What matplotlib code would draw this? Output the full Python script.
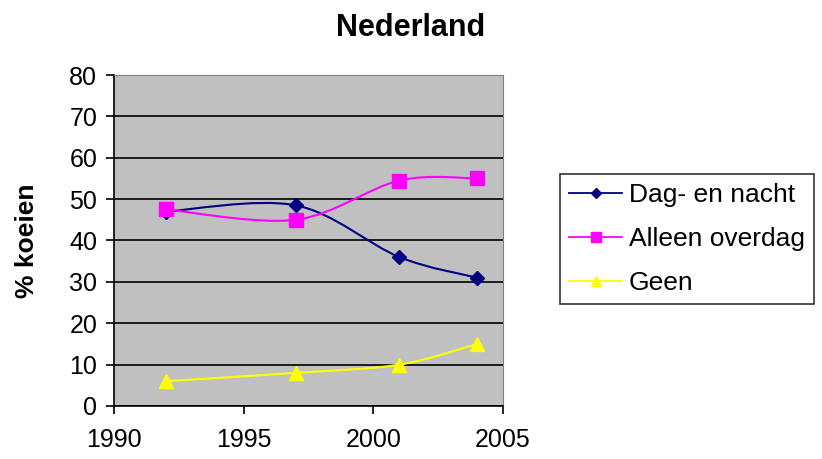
import matplotlib.pyplot as plt
from matplotlib.path import Path
from matplotlib.patches import PathPatch
from matplotlib.lines import Line2D

plt.rcParams['font.family'] = ['Liberation Sans', 'DejaVu Sans']

# Survey years and share of cows (%) per grazing system
years = [1992, 1997, 2001, 2004]
dag_en_nacht = [47, 48.5, 36, 31]
alleen_overdag = [47.5, 45, 54.5, 55]
geen = [6, 8, 10, 15]

series = [
    ("Dag- en nacht", dag_en_nacht, "#000080", "D", 7),
    ("Alleen overdag", alleen_overdag, "#FF00FF", "s", 10),
    ("Geen", geen, "#FFFF00", "^", 10),
]


def smooth_path(xs, ys):
    # Excel style smoothed line: cubic Bezier segments with Catmull-Rom control points
    pts = list(zip(xs, ys))
    verts = [pts[0]]
    codes = [Path.MOVETO]
    n = len(pts)
    for i in range(n - 1):
        p0 = pts[i - 1] if i > 0 else pts[i]
        p1 = pts[i]
        p2 = pts[i + 1]
        p3 = pts[i + 2] if i + 2 < n else pts[i + 1]
        c1 = (p1[0] + (p2[0] - p0[0]) / 6, p1[1] + (p2[1] - p0[1]) / 6)
        c2 = (p2[0] - (p3[0] - p1[0]) / 6, p2[1] - (p3[1] - p1[1]) / 6)
        verts += [c1, c2, p2]
        codes += [Path.CURVE4] * 3
    return Path(verts, codes)


fig = plt.figure(figsize=(8.22, 4.59), dpi=100)
ax = fig.add_axes([0.1387, 0.1155, 0.4733, 0.7211])
ax.set_facecolor("#C0C0C0")

for label, vals, color, marker, size in series:
    ax.add_patch(PathPatch(smooth_path(years, vals), facecolor="none",
                           edgecolor=color, lw=1.5, zorder=3))
    ax.plot(years, vals, linestyle="none", marker=marker, markersize=size,
            color=color, zorder=4)

ax.set_xlim(1990, 2005)
ax.set_ylim(0, 80)
ax.set_xticks([1990, 1995, 2000, 2005])
ax.set_yticks(range(0, 81, 10))
ax.yaxis.grid(True, color="black", lw=1.2)
ax.set_axisbelow(True)

for side in ("top", "right"):
    ax.spines[side].set_color("#808080")
for side in ("left", "bottom"):
    ax.spines[side].set_color("black")
    ax.spines[side].set_linewidth(1.2)

ax.tick_params(axis="both", labelsize=18, length=6, width=1.2,
               colors="black", direction="out")
ax.tick_params(axis="x", pad=10)
ax.tick_params(axis="y", pad=6)
ax.set_ylabel("% koeien", fontsize=19, fontweight="bold", labelpad=22)
fig.text(411 / 822, 1 - 28 / 459, "Nederland", fontsize=22,
         fontweight="bold", ha="center", va="center")

handles = [Line2D([0], [0], color=c, marker=m, markersize=s * 0.7, lw=1.3)
           for _, _, c, m, s in series]
leg = fig.legend(handles, [s[0] for s in series], loc="upper left",
                 bbox_to_anchor=(560 / 822, 1 - 174 / 459), fontsize=19,
                 frameon=True, fancybox=False, edgecolor="black",
                 handlelength=2.0, handletextpad=0.25, borderpad=0.35,
                 labelspacing=0.75, borderaxespad=0)
leg.get_frame().set_linewidth(1.2)

plt.savefig("out.png", dpi=100)
